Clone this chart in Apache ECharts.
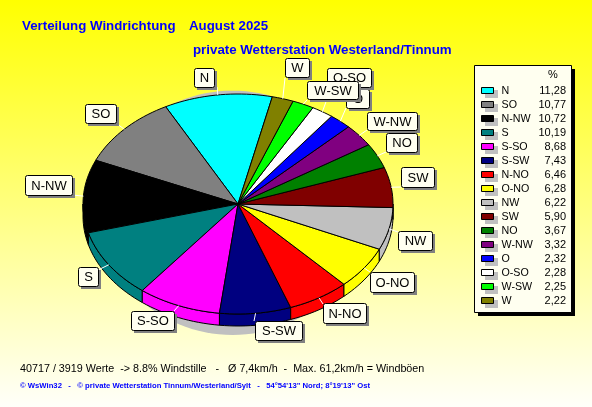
<!DOCTYPE html>
<html><head><meta charset="utf-8">
<style>html,body{margin:0;padding:0;background:#fff}#c{width:592px;height:407px}</style>
<script src="https://cdn.jsdelivr.net/npm/echarts@6/dist/echarts.min.js"></script>
</head><body><div id="c"></div>
<script>
const categories=['N','SO','N-NW','S','S-SO','S-SW','N-NO','O-NO','NW','SW','NO','W-NW','O','O-SO','W-SW','W'];
const values=[11.28,10.77,10.72,10.19,8.68,7.43,6.46,6.28,6.22,5.90,3.67,3.32,2.32,2.28,2.25,2.22];
const valueLabels=['11,28','10,77','10,72','10,19','8,68','7,43','6,46','6,28','6,22','5,90','3,67','3,32','2,32','2,28','2,25','2,22'];
const colors=['#00FFFF','#808080','#000000','#008080','#FF00FF','#000080','#FF0000','#FFFF00','#C0C0C0','#800000','#008000','#800080','#0000FF','#FFFFFF','#00FF00','#808000'];
const startDeg=77.2;
// label boxes: [x0,y0,x1,y1, leaderEndX, leaderEndY]
const labelBoxes=[[194,68,214,87,217,87],[85,104,116,123,116,123],[25,175,72,195,72,195],[78,267,98,286,98,270],
[131,311,174,330,174,311],[255,321,302,340,254,321],[323,303,366,323,323,304],[370,272,414,292,370,272],
[398,231,432,250,398,232],[401,167,434,187,401,187],[386,133,417,152,386,152],[367,112,417,130,367,130],
[346,89,369,108,346,108],[327,68,371,87,327,99],[307,81,358,99,307,100],[285,58,309,77,285,78]];
const shadowEllipse={cx:-0.035,cy:-0.08,rx:0.85,ry:1.11};
const depth=12/110;
const total=values.reduce((a,b)=>a+b,0);
let acc=0;
const slices=values.map((v,i)=>{const a0=startDeg+acc/total*360;acc+=v;const a1=startDeg+acc/total*360;return [i,a0,a1];});
const rad=d=>d*Math.PI/180;
function arcPts(api,a0,a1,off){const pts=[];const n=Math.max(2,Math.ceil((a1-a0)/2));
  for(let k=0;k<=n;k++){const a=rad(a0+(a1-a0)*k/n);pts.push(api.coord([Math.cos(a),Math.sin(a)-off]));}return pts;}
function renderTop(p,api){const i=api.value(0),a0=api.value(1),a1=api.value(2);
  const pts=[api.coord([0,0])].concat(arcPts(api,a0,a1,0));
  return {type:'polygon',shape:{points:pts},style:{fill:colors[i],stroke:'#000',lineWidth:1}};}
function renderSide(p,api){const i=api.value(0);let a0=api.value(1),a1=api.value(2);
  a0=Math.max(a0,180);a1=Math.min(a1,360);if(a1<=a0)return {type:'group',children:[]};
  const top=arcPts(api,a0,a1,0),bot=arcPts(api,a0,a1,depth).reverse();
  return {type:'polygon',shape:{points:top.concat(bot)},style:{fill:colors[i],stroke:'#000',lineWidth:1}};}
function renderShadow(p,api){const pts=[];for(let a=0;a<360;a+=3){pts.push(api.coord([shadowEllipse.cx+shadowEllipse.rx*Math.cos(rad(a)),shadowEllipse.cy+shadowEllipse.ry*Math.sin(rad(a))]));}
  return {type:'polygon',shape:{points:pts},style:{fill:'#C0C0C0'}};}
function renderLeader(p,api){const i=api.value(0),m=rad((api.value(1)+api.value(2))/2);const s=api.coord([Math.cos(m),Math.sin(m)]);const b=labelBoxes[i];
  return {type:'line',shape:{x1:s[0],y1:s[1],x2:b[4],y2:b[5]},style:{stroke:'#FFFFFF',lineWidth:1}};}
const F='"Liberation Sans",Arial,sans-serif';
const graphic=[];
categories.forEach((c,i)=>{const b=labelBoxes[i];const w=b[2]-b[0],h=b[3]-b[1];
  graphic.push({type:'rect',z:100,shape:{x:b[0]+3,y:b[1]+3,width:w,height:h},style:{fill:'#808080'}});
  graphic.push({type:'rect',z:100,shape:{x:b[0]+.5,y:b[1]+.5,width:w,height:h,r:2},style:{fill:'#FFFFF0',stroke:'#000',lineWidth:1}});
  graphic.push({type:'text',z:100,x:b[0]+w/2+.5,y:b[1]+h/2+1,style:{text:c,fill:'#000',font:'13px '+F,textAlign:'center',textVerticalAlign:'middle'}});
});
// legend box
graphic.push({type:'rect',z:100,shape:{x:478,y:69,width:97,height:247},style:{fill:'#000'}});
graphic.push({type:'rect',z:100,shape:{x:474.5,y:65.5,width:97,height:247},style:{fill:'#FFFFF0',stroke:'#000',lineWidth:1}});
graphic.push({type:'text',z:101,x:553,y:75,style:{text:'%',fill:'#000',font:'11px '+F,textAlign:'center',textVerticalAlign:'middle'}});
const order=values.map((v,i)=>i).sort((a,b)=>values[b]-values[a]);
order.forEach((idx,r)=>{const y=91+r*14;
  graphic.push({type:'rect',z:101,shape:{x:485,y:y-1,width:13,height:8},style:{fill:'#C0C0C0'}});
  graphic.push({type:'rect',z:101,shape:{x:481.5,y:y-3.5,width:12,height:6},style:{fill:colors[idx],stroke:'#000',lineWidth:1}});
  graphic.push({type:'text',z:101,x:501.5,y:y,style:{text:categories[idx],fill:'#000',font:'10.7px '+F,textVerticalAlign:'middle'}});
  graphic.push({type:'text',z:101,x:566,y:y,style:{text:valueLabels[idx],fill:'#000',font:'11px '+F,textAlign:'right',textVerticalAlign:'middle'}});
});
graphic.push({type:'text',z:101,x:20,y:369,style:{text:'40717 / 3919 Werte  -> 8.8% Windstille   -   Ø 7,4km/h  -  Max. 61,2km/h = Windböen',fill:'#000',font:'10.75px '+F,textVerticalAlign:'middle'}});
graphic.push({type:'text',z:101,x:20,y:386,style:{text:'© WsWin32   -   © private Wetterstation Tinnum/Westerland/Sylt   -   54°54\'13" Nord; 8°19\'13" Ost',fill:'#0000FF',font:'bold 7.7px '+F,textVerticalAlign:'middle'}});
const chart=echarts.init(document.getElementById('c'),null,{renderer:'canvas'});
const axis={type:'value',min:-1,max:1,show:false};
const titleStyle={color:'#0000FF',fontFamily:F,fontWeight:'bold',fontSize:13.3};
chart.setOption({
  animation:false,
  backgroundColor:{type:'linear',x:0,y:0,x2:0,y2:1,colorStops:[{offset:0,color:'#FFFF00'},{offset:1,color:'#FFFFFA'}]},
  title:[{text:'Verteilung Windrichtung',left:22,top:20,padding:0,textStyle:titleStyle},
         {text:'August 2025',left:189,top:20,padding:0,textStyle:titleStyle},
         {text:'private Wetterstation Westerland/Tinnum',left:193,top:44,padding:0,textStyle:titleStyle}],
  grid:{left:83,width:310,top:94,height:220,containLabel:false},
  xAxis:axis,yAxis:axis,
  series:[
    {type:'custom',silent:true,clip:false,renderItem:renderShadow,data:[[0]],z:1},
    {type:'custom',silent:true,clip:false,renderItem:renderSide,data:slices,encode:{x:1,y:2},z:2},
    {type:'custom',silent:true,clip:false,renderItem:renderTop,data:slices,encode:{x:1,y:2},z:3},
    {type:'custom',silent:true,clip:false,renderItem:renderLeader,data:slices,encode:{x:1,y:2},z:4}
  ],
  graphic:{elements:graphic}
});
</script></body></html>
